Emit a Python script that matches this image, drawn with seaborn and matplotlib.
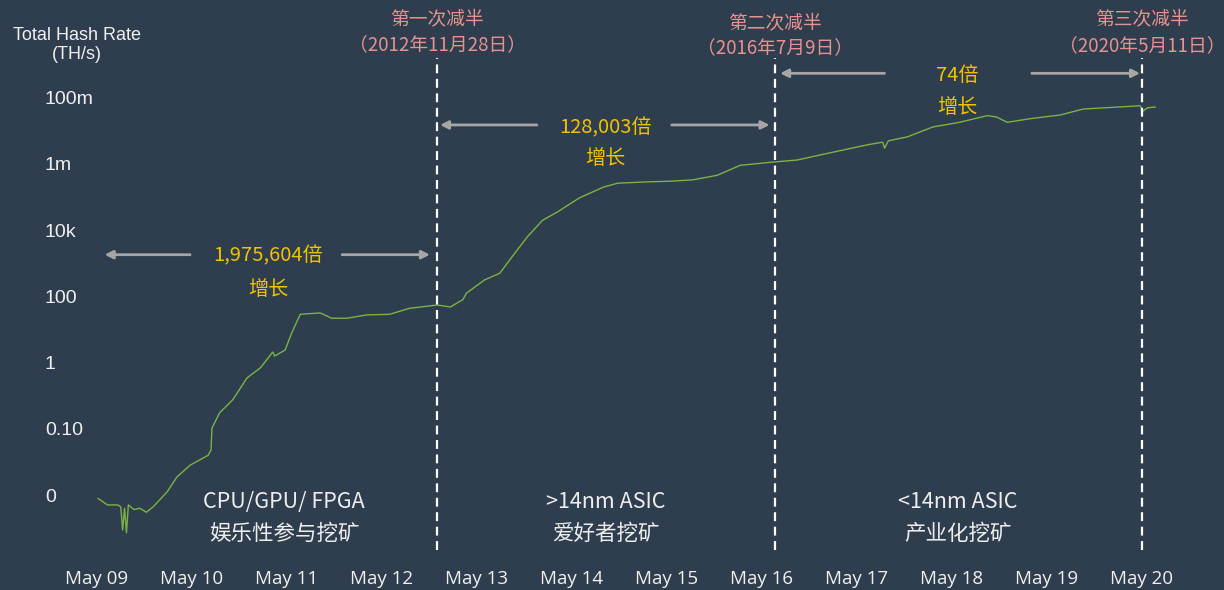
import numpy as np
import pandas as pd
import matplotlib.pyplot as plt
import seaborn as sns

# Hash rate: year (decimal) and level on the tick scale
years = [2009.38, 2009.48, 2009.59, 2009.62, 2009.64, 2009.66, 2009.68, 2009.70, 2009.76, 2009.82,
         2009.89, 2009.96, 2010.11, 2010.21, 2010.35, 2010.54, 2010.57, 2010.58, 2010.66, 2010.80,
         2010.95, 2011.09, 2011.22, 2011.24, 2011.35, 2011.42, 2011.51, 2011.72, 2011.84, 2012.00,
         2012.21, 2012.45, 2012.66, 2012.95, 2013.09, 2013.22, 2013.26, 2013.45, 2013.61, 2013.74,
         2013.90, 2014.06, 2014.21, 2014.45, 2014.70, 2014.85, 2015.16, 2015.40, 2015.64, 2015.90,
         2016.14, 2016.49, 2016.74, 2017.09, 2017.48, 2017.64, 2017.66, 2017.70, 2017.90, 2018.17,
         2018.45, 2018.74, 2018.84, 2018.95, 2019.22, 2019.51, 2019.75, 2020.11, 2020.35, 2020.38,
         2020.43, 2020.51]
levels = [-0.05, -0.15, -0.15, -0.18, -0.53, -0.20, -0.57, -0.15, -0.22, -0.20,
          -0.26, -0.18, 0.05, 0.27, 0.45, 0.60, 0.68, 1.01, 1.24, 1.44,
          1.77, 1.92, 2.16, 2.10, 2.19, 2.45, 2.73, 2.75, 2.67, 2.67,
          2.72, 2.73, 2.82, 2.87, 2.84, 2.95, 3.05, 3.25, 3.35, 3.60,
          3.90, 4.15, 4.27, 4.49, 4.65, 4.71, 4.73, 4.74, 4.76, 4.83,
          4.98, 5.03, 5.06, 5.17, 5.29, 5.33, 5.24, 5.35, 5.41, 5.56,
          5.63, 5.73, 5.71, 5.63, 5.69, 5.74, 5.83, 5.86, 5.88, 5.80,
          5.85, 5.86]

ytick_labels = ['0', '0.10', '1', '100', '10k', '1m', '100m']
xtick_labels = ['May 09', 'May 10', 'May 11', 'May 12', 'May 13', 'May 14',
                'May 15', 'May 16', 'May 17', 'May 18', 'May 19', 'May 20']

halving_dates = [2012.95, 2016.51, 2020.37]
halving_titles = ['第一次减半', '第二次减半', '第三次减半']
halving_subtitles = ['（2012年11月28日）', '（2016年7月9日）', '（2020年5月11日）']

growth_labels = ['1,975,604倍', '128,003倍', '74倍']
era_titles = ['CPU/GPU/ FPGA', '>14nm ASIC', '<14nm ASIC']
era_subtitles = ['娱乐性参与挖矿', '爱好者挖矿', '产业化挖矿']

df = pd.DataFrame({'year': years, 'level': levels})

bg = '#2e3e4e'
sns.set_theme(style='dark', rc={'axes.facecolor': bg, 'figure.facecolor': bg})
plt.rcParams['font.family'] = ['Noto Sans CJK SC', 'DejaVu Sans']

fig = plt.figure(figsize=(12.24, 5.9), dpi=100)
ax = fig.add_axes([45 / 1224, 30 / 590, 1 - 45 / 1224, 560 / 590])

sns.lineplot(data=df, x='year', y='level', ax=ax, color='#7cb342', linewidth=1.0)

# pixel layout: May 09 at x=97, 95 px per year; level 0 at y=495, 66.2 px per level
x0 = 2009.37 - (97 - 45) / 95
ax.set_xlim(x0, x0 + (1224 - 45) / 95)
ax.set_ylim(-(560 - 495) / 66.2, 495 / 66.2)

xticks = [2009.37 + i for i in range(len(xtick_labels))]
ax.set_xticks(xticks)
ax.set_xticklabels(xtick_labels, family=['Open Sans', 'DejaVu Sans'], fontsize=13.5, color='#f0f0f0')
ax.set_yticks(range(len(ytick_labels)))
ax.set_yticklabels(ytick_labels, family=['Liberation Sans', 'DejaVu Sans'], fontsize=14,
                   color='#f0f0f0', ha='left')
ax.tick_params(axis='y', length=0, pad=0)
ax.tick_params(axis='x', length=0, pad=7)
ax.set_xlabel('')
ax.set_ylabel('')
for s in ax.spines.values():
    s.set_visible(False)
ax.grid(False)

fig.text(77 / 1224, 1 - 45 / 590, 'Total Hash Rate\n(TH/s)', ha='center', va='center',
         family=['Liberation Sans', 'DejaVu Sans'], fontsize=13, color='#f0f0f0', linespacing=1.15)

# halving lines and labels
title_y = [7.20, 7.14, 7.20]
sub_y = [6.80, 6.75, 6.78]
for d, t, st, ty, sy in zip(halving_dates, halving_titles, halving_subtitles, title_y, sub_y):
    ax.vlines(d, -0.83, 6.60, colors='white', linestyles=(0, (4, 2.5)), linewidth=1.6)
    ax.text(d, ty, t, ha='center', va='center', color='#e8928f', fontsize=13.5)
    ax.text(d, sy, st, ha='center', va='center', color='#e8928f', fontsize=13.5)

# growth arrows: (left head, left tail, right tail, right head, y)
arrows = [(2009.45, 2010.35, 2011.95, 2012.875, 3.63),
          (2012.98, 2014.00, 2015.42, 2016.45, 5.59),
          (2016.56, 2017.66, 2019.21, 2020.35, 6.37)]
label_pos = [(2011.17, 3.61, 3.11), (2014.72, 5.54, 5.08), (2018.43, 6.34, 5.85)]
aprops = dict(arrowstyle='-|>', color='#a6a6a6', lw=2, mutation_scale=12, shrinkA=0, shrinkB=0)
for (lh, lt, rt, rh, y), (tx, ty1, ty2), g in zip(arrows, label_pos, growth_labels):
    ax.annotate('', xy=(lh, y), xytext=(lt, y), arrowprops=aprops)
    ax.annotate('', xy=(rh, y), xytext=(rt, y), arrowprops=aprops)
    ax.text(tx, ty1, g, ha='center', va='center', color='#f2c200', fontsize=14.5)
    ax.text(tx, ty2, '增长', ha='center', va='center', color='#f2c200', fontsize=14.5)

# era labels
era_x = [2011.34, 2014.73, 2018.43]
for ex, et, es in zip(era_x, era_titles, era_subtitles):
    ax.text(ex, -0.11, et, ha='center', va='center', color='#eeeeee', fontsize=15.5)
    ax.text(ex, -0.59, es, ha='center', va='center', color='#eeeeee', fontsize=15.5)

fig.savefig('out.png', dpi=100, facecolor=bg)
